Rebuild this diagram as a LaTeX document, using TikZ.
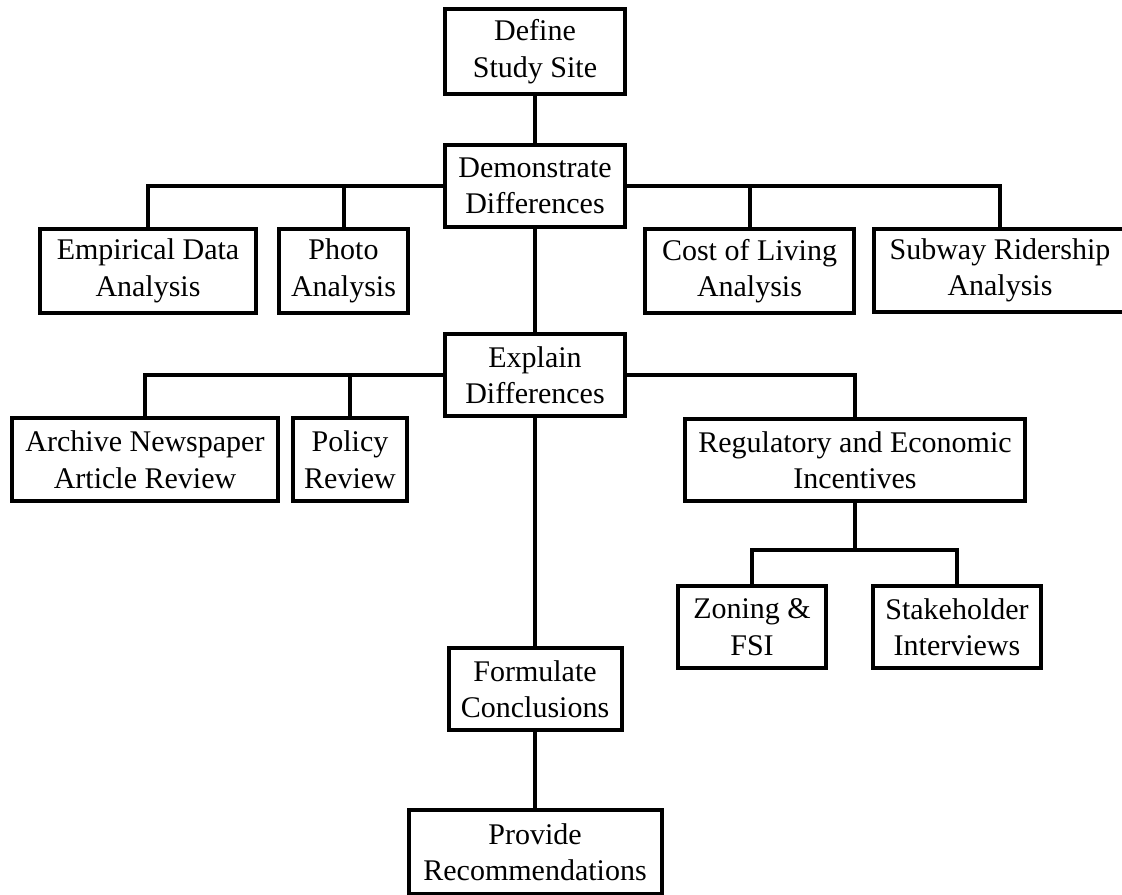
\documentclass[tikz,border=0pt]{standalone}
\usepackage{fontspec}
\setmainfont{Liberation Serif}
\begin{document}
\begin{tikzpicture}[x=0.75pt,y=-0.75pt,
  bx/.style 2 args={draw=black, line width=3pt, fill=white, align=center, inner sep=0pt,
    minimum width=#1*0.75pt, minimum height=#2*0.75pt,
    font=\fontsize{22.5pt}{27.4pt}\selectfont},
  conn/.style={line width=3pt, draw=black}]
\useasboundingbox (0,0) rectangle (1122,894);
\node[bx={180}{85}] (define) at (535,51.5) {Define\\Study Site};
\node[bx={180}{82}] (demo) at (535,186) {Demonstrate\\Differences};
\node[bx={216}{84}] (emp) at (148,271) {Empirical Data\\Analysis};
\node[bx={129}{84}] (photo) at (343.5,271) {Photo\\Analysis};
\node[bx={209}{84}] (cost) at (749.5,271) {Cost of Living\\Analysis};
\node[bx={252}{83}] (subway) at (1000,270.5) {Subway Ridership\\Analysis};
\node[bx={180}{82}] (explain) at (535,375) {Explain\\Differences};
\node[bx={266}{83}] (archive) at (145,459.5) {Archive Newspaper\\Article Review};
\node[bx={114}{83}] (policy) at (350,459.5) {Policy\\Review};
\node[bx={340}{82}] (reg) at (855,460) {Regulatory and Economic\\Incentives};
\node[bx={148}{82}] (zoning) at (752,627) {Zoning \&\\FSI};
\node[bx={168}{82}] (stake) at (957,627) {Stakeholder\\Interviews};
\node[bx={173}{82}] (formulate) at (535,689) {Formulate\\Conclusions};
\node[bx={253}{84}] (provide) at (535,852) {Provide\\Recommendations};
\coordinate (zj) at (855,550);
\draw[conn] (define) -- (demo);
\draw[conn] (demo) -- (explain);
\draw[conn] (explain) -- (formulate);
\draw[conn] (formulate) -- (provide);
\draw[conn] (emp.north) |- (demo.west);
\draw[conn] (photo.north) -- (photo.north |- demo.west);
\draw[conn] (subway.north) |- (demo.east);
\draw[conn] (cost.north) -- (cost.north |- demo.east);
\draw[conn] (archive.north) |- (explain.west);
\draw[conn] (policy.north) -- (policy.north |- explain.west);
\draw[conn] (reg.north) |- (explain.east);
\draw[conn] (reg.south) -- (zj);
\draw[conn] (zoning.north) |- (zj) -| (stake.north);
\end{tikzpicture}
\end{document}
